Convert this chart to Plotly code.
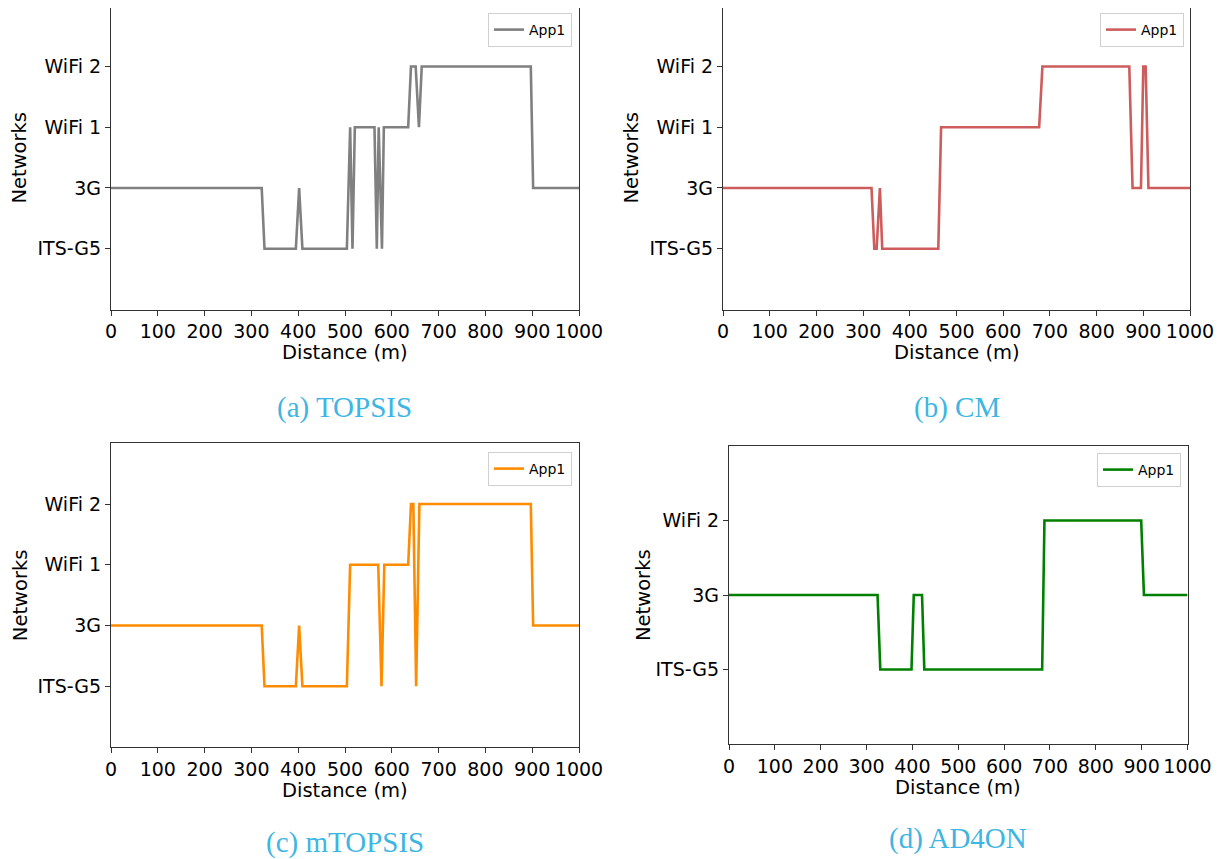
import plotly.graph_objects as go

# page is rendered with an 8px body margin; work in page pixels and convert
OFF = 8
W, H = 1222 - OFF, 859 - OFF

levels4 = ["ITS-G5", "3G", "WiFi 1", "WiFi 2"]
levels3 = ["ITS-G5", "3G", "WiFi 2"]
x_ticks = [0, 100, 200, 300, 400, 500, 600, 700, 800, 900, 1000]

# (a) TOPSIS
topsis_x = [0, 322, 328, 395, 402, 409, 504, 511, 516, 521, 563, 568, 572, 579, 583,
            635, 641, 651, 658, 664, 897, 902, 1000]
topsis_y = ["3G", "3G", "ITS-G5", "ITS-G5", "3G", "ITS-G5", "ITS-G5", "WiFi 1", "ITS-G5",
            "WiFi 1", "WiFi 1", "ITS-G5", "WiFi 1", "ITS-G5", "WiFi 1", "WiFi 1", "WiFi 2",
            "WiFi 2", "WiFi 1", "WiFi 2", "WiFi 2", "3G", "3G"]

# (b) CM
cm_x = [0, 318, 324, 329, 336, 341, 461, 467, 677, 684, 870, 877, 895, 900, 905, 911, 1000]
cm_y = ["3G", "3G", "ITS-G5", "ITS-G5", "3G", "ITS-G5", "ITS-G5", "WiFi 1", "WiFi 1",
        "WiFi 2", "WiFi 2", "3G", "3G", "WiFi 2", "WiFi 2", "3G", "3G"]

# (c) mTOPSIS
mtopsis_x = [0, 322, 328, 395, 402, 409, 504, 511, 571, 578, 584, 635, 641, 646, 652,
             659, 897, 902, 1000]
mtopsis_y = ["3G", "3G", "ITS-G5", "ITS-G5", "3G", "ITS-G5", "ITS-G5", "WiFi 1", "WiFi 1",
             "ITS-G5", "WiFi 1", "WiFi 1", "WiFi 2", "WiFi 2", "ITS-G5", "WiFi 2", "WiFi 2",
             "3G", "3G"]

# (d) AD4ON
ad4on_x = [0, 324, 330, 398, 403, 421, 426, 683, 688, 899, 905, 1000]
ad4on_y = ["3G", "3G", "ITS-G5", "ITS-G5", "3G", "3G", "ITS-G5", "ITS-G5", "WiFi 2",
           "WiFi 2", "3G", "3G"]

panels = [
    dict(x=topsis_x, y=topsis_y, color="#808080", levels=levels4, caption="(a) TOPSIS",
         dom_x=(111, 579), dom_y=(5.7, 309.5), legend_xy=(572, 13), cap_y=407),
    dict(x=cm_x, y=cm_y, color="#cd5c5c", levels=levels4, caption="(b) CM",
         dom_x=(723, 1190), dom_y=(5.7, 309.5), legend_xy=(1184, 13), cap_y=407),
    dict(x=mtopsis_x, y=mtopsis_y, color="#ff8c00", levels=levels4, caption="(c) mTOPSIS",
         dom_x=(111, 579), dom_y=(443.3, 747), legend_xy=(572, 452), cap_y=842),
    dict(x=ad4on_x, y=ad4on_y, color="#008000", levels=levels3, caption="(d) AD4ON",
         dom_x=(729, 1187.5), dom_y=(446, 744), legend_xy=(1181, 453), cap_y=838),
]


def px_x(p):
    return (p - OFF) / W


def px_y(p):
    return 1 - (p - OFF) / H


fig = go.Figure()
tick_font = dict(family="DejaVu Sans", size=19, color="black")
annotations = []

for i, p in enumerate(panels):
    n = "" if i == 0 else str(i + 1)
    xa, ya = "x" + n, "y" + n
    leg = "legend" + n
    fig.add_trace(go.Scatter(x=p["x"], y=p["y"], mode="lines", name="App1",
                             line=dict(color=p["color"], width=2.6),
                             xaxis=xa, yaxis=ya, legend=leg, showlegend=True))
    nlev = len(p["levels"])
    top_orig, bot = p["dom_y"]
    top = max(top_orig, OFF)
    ppu = (bot - top_orig) / (nlev + 1)
    rng_top = nlev - (top - top_orig) / ppu
    x0, x1 = px_x(p["dom_x"][0]), px_x(p["dom_x"][1])
    y0, y1 = px_y(bot), min(1.0, px_y(top))
    axis_common = dict(showline=True, linecolor="#333333", linewidth=1.2, mirror=True,
                       ticks="outside", ticklen=5, tickwidth=1, tickcolor="#333333",
                       showgrid=False, zeroline=False, tickfont=tick_font, automargin=False,
                       tickangle=0)
    fig.update_layout(**{
        "xaxis" + n: dict(domain=[x0, x1], range=[0, 1000], tickvals=x_ticks,
                          anchor=ya, **axis_common),
        "yaxis" + n: dict(domain=[y0, y1], type="category", categoryorder="array",
                          categoryarray=p["levels"], range=[-1, rng_top],
                          anchor=xa, **axis_common),
        leg: dict(x=px_x(p["legend_xy"][0]), y=min(1.0, px_y(p["legend_xy"][1])),
                  xanchor="right", yanchor="top", bgcolor="white", bordercolor="#d0d0d0",
                  borderwidth=1, font=dict(family="DejaVu Sans", size=14, color="black"),
                  itemwidth=30, tracegroupgap=0),
    })
    cx = (p["dom_x"][0] + p["dom_x"][1]) / 2
    # x axis title
    annotations.append(dict(text="Distance (m)", x=px_x(cx), y=px_y(bot + 43),
                            xref="paper", yref="paper", showarrow=False,
                            font=dict(family="DejaVu Sans", size=19.5, color="black"),
                            xanchor="center", yanchor="middle"))
    # y axis title
    cy = (top_orig + bot) / 2
    ytx = p["dom_x"][0] - (91 if nlev == 4 else 86)
    annotations.append(dict(text="Networks", x=px_x(ytx), y=px_y(cy),
                            xref="paper", yref="paper", showarrow=False, textangle=-90,
                            font=dict(family="DejaVu Sans", size=19.5, color="black"),
                            xanchor="center", yanchor="middle"))
    # caption
    annotations.append(dict(text=p["caption"], x=px_x(cx), y=px_y(p["cap_y"]),
                            xref="paper", yref="paper", showarrow=False,
                            font=dict(family="Liberation Serif", size=29, color="#3fb5e3"),
                            xanchor="center", yanchor="middle"))

fig.update_layout(width=W, height=H, margin=dict(l=0, r=0, t=0, b=0),
                  paper_bgcolor="white", plot_bgcolor="white",
                  annotations=annotations)

fig.write_html("out.html")
